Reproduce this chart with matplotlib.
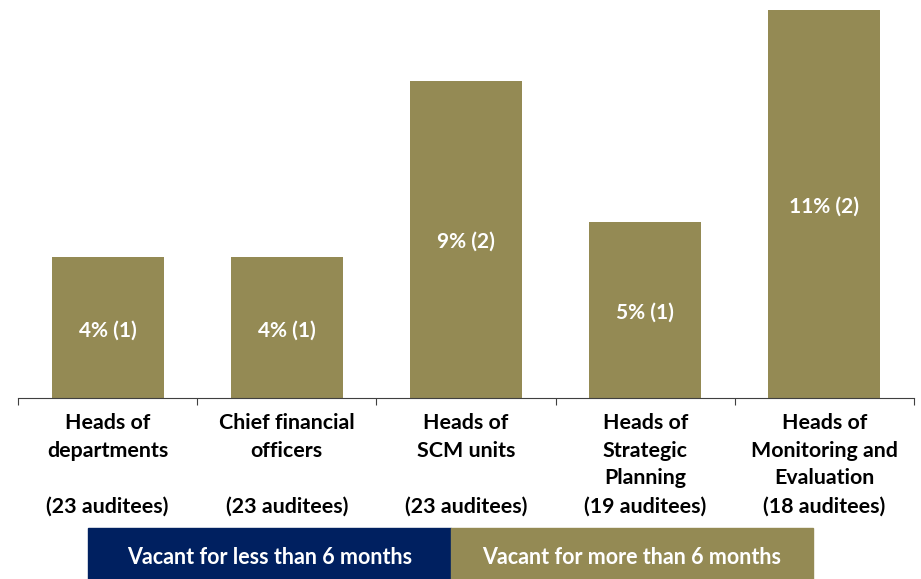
import numpy as np
import matplotlib.pyplot as plt
from matplotlib.patches import Rectangle

plt.rcParams['font.family'] = ['Lato', 'DejaVu Sans']

categories = ['Heads of\ndepartments\n\n(23 auditees)',
              'Chief financial\nofficers\n\n(23 auditees)',
              'Heads of\nSCM units\n\n(23 auditees)',
              'Heads of\nStrategic\nPlanning\n(19 auditees)',
              'Heads of\nMonitoring and\nEvaluation\n(18 auditees)']
less_6 = [0, 0, 0, 0, 0]
more_6 = [4, 4, 9, 5, 11]
more_6_counts = [1, 1, 2, 1, 2]
legend_labels = ['Vacant for less than 6 months', 'Vacant for more than 6 months']

navy = '#002060'
olive = '#948A54'

fig = plt.figure(figsize=(9.21, 5.79), dpi=100)
ax = fig.add_axes([18 / 921, 1 - 398 / 579, (914 - 18) / 921, 388 / 579])

x = np.arange(len(categories))
ax.bar(x, less_6, width=0.625, color=navy)
bars = ax.bar(x, more_6, width=0.625, bottom=less_6, color=olive)
for b, v, c in zip(bars, more_6, more_6_counts):
    ax.annotate(f'{v}% ({c})', (b.get_x() + b.get_width() / 2, b.get_y() + v / 2),
                xytext=(0, -2), textcoords='offset points',
                ha='center', va='center', color='white', fontsize=15, fontweight='bold')

ax.set_xlim(-0.5, len(categories) - 0.5)
ax.set_ylim(0, 11)
ax.set_yticks([])
for s in ['top', 'right', 'left']:
    ax.spines[s].set_visible(False)
ax.spines['bottom'].set_color('#404040')

ax.set_xticks(np.arange(len(categories) + 1) - 0.5)
ax.set_xticklabels([])
ax.tick_params(axis='x', length=5, color='#404040', direction='out')
for i, lab in enumerate(categories):
    ax.text(i, -0.42, lab, ha='center', va='top', fontsize=15.4, fontweight='bold',
            linespacing=1.49, clip_on=False)

# legend boxes
boxes = [(88, 451, navy), (451, 813, olive)]
for (x0, x1, col), lab in zip(boxes, legend_labels):
    fig.patches.append(Rectangle((x0 / 921, 0), (x1 - x0) / 921, 51 / 579,
                                 transform=fig.transFigure, color=col, zorder=0))
    fig.text((x0 + x1) / 2 / 921, 22 / 579, lab, ha='center', va='center',
             color='white', fontsize=15.5, fontweight='bold')

fig.savefig('out.png', dpi=100)
